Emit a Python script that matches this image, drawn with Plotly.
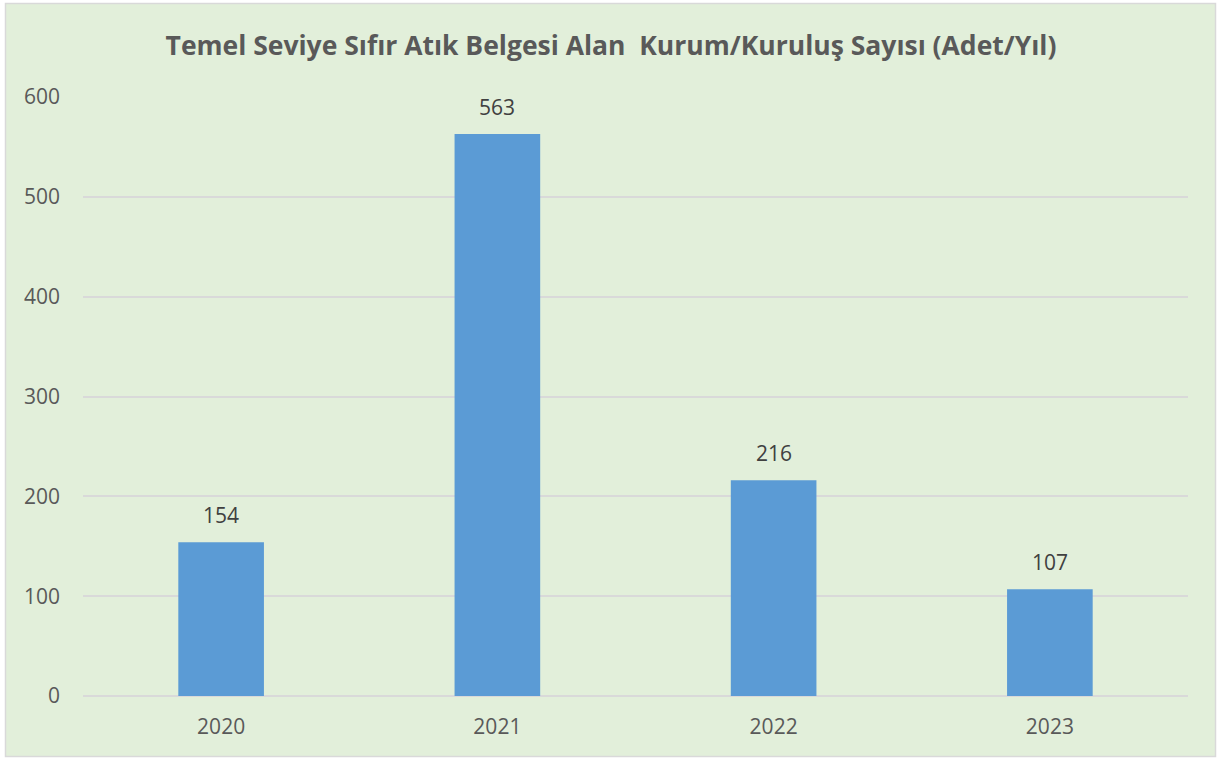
import plotly.graph_objects as go

years = ["2020", "2021", "2022", "2023"]
counts = [154, 563, 216, 107]
y_ticks = [0, 100, 200, 300, 400, 500, 600]
title_text = "Temel Seviye Sıfır Atık Belgesi Alan  Kurum/Kuruluş Sayısı (Adet/Yıl)"

W, H = 1217, 758
ML, MR, MT, MB = 83, 29, 96, 62
pw, ph = W - ML - MR, H - MT - MB

def px2paper_x(px):
    return (px - ML) / pw

def px2paper_y(py):
    return (H - MB - py) / ph

fig = go.Figure()
fig.add_trace(go.Bar(
    x=years, y=counts,
    marker=dict(color="#5B9BD5", line=dict(width=0)),
    hoverinfo="x+y",
))

# category axis: annotation x uses the category's serial index
for i, yv in enumerate(counts):
    fig.add_annotation(
        x=i, y=yv, text=str(yv), showarrow=False,
        yanchor="bottom", yshift=11,
        font=dict(family="Open Sans", size=21, color="#404040"),
    )

fig.add_shape(
    type="rect", xref="paper", yref="paper",
    x0=px2paper_x(5.5), x1=px2paper_x(1215.5),
    y0=px2paper_y(756.5), y1=px2paper_y(3.5),
    fillcolor="#E2EFDA", line=dict(color="#D9D9D9", width=1.5),
    layer="below",
)

fig.update_layout(
    width=W, height=H,
    margin=dict(l=ML, r=MR, t=MT, b=MB, autoexpand=False),
    paper_bgcolor="white",
    plot_bgcolor="rgba(0,0,0,0)",
    title=dict(
        text=title_text, x=611 / W, xref="container", xanchor="center",
        y=1 - 46 / H, yanchor="middle",
        font=dict(family="Open Sans", size=26.5, color="#595959", weight="bold"),
    ),
    bargap=0.69,
    showlegend=False,
    font=dict(family="Open Sans", color="#595959"),
)
fig.update_xaxes(
    type="category", range=[-0.5, 3.5],
    showgrid=False, showline=False, ticks="",
    tickfont=dict(size=21, color="#595959"),
    ticklabelstandoff=16,
)
fig.update_yaxes(
    range=[0, 601], tickvals=y_ticks,
    showgrid=True, gridcolor="#D9D9D9", gridwidth=1.5,
    zeroline=True, zerolinecolor="#D9D9D9", zerolinewidth=1.5,
    showline=False, ticks="",
    tickfont=dict(size=21, color="#595959"),
    ticklabelstandoff=22,
)

fig.write_html(
    "out.html",
    config={"displayModeBar": False},
    post_script="document.body.style.margin='0';document.body.style.overflow='hidden';",
)
